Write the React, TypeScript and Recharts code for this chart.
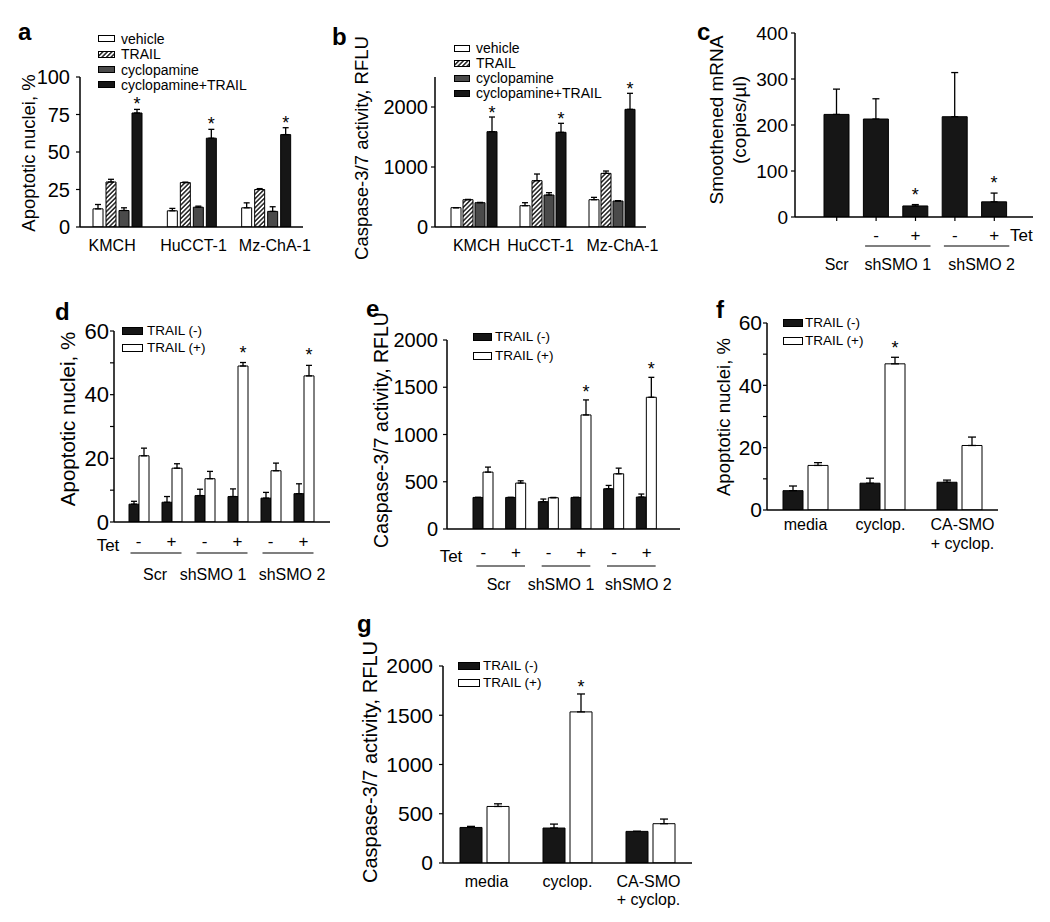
import React from "react";
import { BarChart, Bar, XAxis, YAxis, ErrorBar, LabelList, Legend } from "recharts";

const FONT = '"Liberation Sans", Arial, Helvetica, sans-serif';
const BLACK = "#161616";
const GREY = "#4a4a4a";
const WHITE = "#ffffff";
const HATCH = "url(#hatch)";

// a: apoptotic nuclei (%) per cell line
const cellLines = ["KMCH", "HuCCT-1", "Mz-ChA-1"];
const aVehicle = [12.1, 10.8, 12.8];
const aVehicleErr = [2.9, 1.6, 3.3];
const aTrail = [30, 29.6, 25];
const aTrailErr = [1.8, 0.3, 0.6];
const aCyclo = [11, 13.2, 10.4];
const aCycloErr = [1.8, 0.7, 3.1];
const aCycloTrail = [76, 59.2, 61.6];
const aCycloTrailErr = [2.4, 5.9, 4.6];
const aTicks = [0, 25, 50, 75, 100];

// b: caspase-3/7 activity per cell line
const bVehicle = [322, 355, 455];
const bVehicleErr = [0, 50, 39];
const bTrail = [455, 772, 894];
const bTrailErr = [5, 111, 39];
const bCyclo = [405, 533, 433];
const bCycloErr = [5, 39, 6];
const bCycloTrail = [1589, 1578, 1961];
const bCycloTrailErr = [244, 150, 267];
const bTicks = [0, 1000, 2000];
const cellStars = [true, true, true];

// c: smoothened mRNA
const cCategories = ["Scr", "shSMO 1 -", "shSMO 1 +", "shSMO 2 -", "shSMO 2 +"];
const cTet = ["", "-", "+", "-", "+"];
const cGroups = [
  { name: "Scr", start: 0, size: 1 },
  { name: "shSMO 1", start: 1, size: 2 },
  { name: "shSMO 2", start: 3, size: 2 },
];
const cMrna = [223, 213, 24, 218, 33];
const cMrnaErr = [55, 44, 3, 96, 19];
const cStars = [false, false, true, false, true];
const cTicks = [0, 100, 200, 300, 400];

// d, e: shRNA lines -/+ Tet
const shCategories = ["Scr -", "Scr +", "shSMO 1 -", "shSMO 1 +", "shSMO 2 -", "shSMO 2 +"];
const shTet = ["-", "+", "-", "+", "-", "+"];
const shGroups = [
  { name: "Scr", start: 0, size: 2 },
  { name: "shSMO 1", start: 2, size: 2 },
  { name: "shSMO 2", start: 4, size: 2 },
];
const shStars = [false, false, false, true, false, true];
const dNeg = [5.6, 6.2, 8.3, 8.0, 7.5, 8.9];
const dNegErr = [0.9, 1.8, 2.0, 2.4, 1.8, 3.1];
const dPos = [20.8, 16.9, 13.6, 49.0, 16.1, 45.9];
const dPosErr = [2.4, 1.4, 2.3, 1.1, 2.4, 3.3];
const eNeg = [334, 334, 289, 334, 426, 338];
const eNegErr = [0, 0, 28, 0, 35, 32];
const ePos = [602, 486, 331, 1207, 584, 1394];
const ePosErr = [53, 24, 3, 159, 60, 211];

// f, g: media / cyclopamine / CA-SMO
const treatments = ["media", "cyclop.", "CA-SMO\n+ cyclop."];
const treatStars = [false, true, false];
const fNeg = [6.2, 8.6, 8.9];
const fNegErr = [1.5, 1.6, 0.7];
const fPos = [14.3, 46.9, 20.7];
const fPosErr = [0.9, 2.1, 2.7];
const gNeg = [361, 355, 321];
const gNegErr = [11, 40, 0];
const gPos = [574, 1534, 399];
const gPosErr = [27, 182, 47];

const pctTicks = [0, 10, 20, 30, 40, 50, 60];
const caspTicks = [0, 500, 1000, 1500, 2000];

type Series = { key: string; name: string; fill: string; values: number[]; errs: number[]; stars?: boolean[] };
type Group = { name: string; start: number; size: number };
type TickFn = (p: any) => React.ReactElement;

type Cfg = {
  id: string;
  box: [number, number, number, number];
  plot: [number, number, number, number];
  categories: string[];
  series: Series[];
  domain: [number, number];
  yTicks: number[];
  yEvery?: number;
  yFont: number;
  yGap: number;
  yLabel: { lines: string[]; x: number; y: number; size: number; spacing?: number };
  pad: [number, number];
  barSize: number;
  barGap: number;
  cap: number;
  starLift: number;
  legend?: { x: number; y: number; rowH: number; sw: number; sh: number; gap: number; fs: number };
  xTick: (axisY: number, band: number, bx: number) => TickFn;
  xTickLine?: boolean;
};

// category names under the axis (nudged like the original figure)
const nameTick = (cats: string[], rows: number[], fs: number, dx: number[] = []) => (axisY: number): TickFn => (p) => {
  const i = cats.indexOf(String(p.payload.value));
  const lines = String(p.payload.value).split("\n");
  return (
    <g>
      {lines.map((l, k) => (
        <text key={k} x={p.x + (dx[i] || 0)} y={axisY + rows[k]} textAnchor="middle" fontSize={fs} fontFamily={FONT} fill="#000">
          {l}
        </text>
      ))}
    </g>
  );
};

type TetOpts = {
  cats: string[];
  tet: string[];
  groups: Group[];
  pmY: number;
  lineY: number;
  nameY: number;
  nameDx: number[];
  ext: [number, number];
  tetX: number;
  tetY: number;
  tetAnchor: "start" | "middle" | "end";
  fs: number;
  nameFs: number;
};

const tetTick = (o: TetOpts) => (axisY: number, band: number, bx: number): TickFn => (p) => {
  const i = o.cats.indexOf(String(p.payload.value));
  const x = p.x;
  const gi = o.groups.findIndex((gr) => gr.start === i);
  const g = gi >= 0 ? o.groups[gi] : undefined;
  const lineEnd = x + band * ((g ? g.size : 1) - 1) + o.ext[1];
  return (
    <g>
      {o.tet[i] ? (
        <text x={x} y={axisY + o.pmY} textAnchor="middle" fontSize={o.fs} fontFamily={FONT} fill="#000">
          {o.tet[i]}
        </text>
      ) : null}
      {i === 0 ? (
        <text x={o.tetX - bx} y={axisY + o.tetY} textAnchor={o.tetAnchor} fontSize={o.fs} fontFamily={FONT} fill="#000">
          Tet
        </text>
      ) : null}
      {g && g.size > 1 ? (
        <line x1={x + o.ext[0]} x2={lineEnd} y1={axisY + o.lineY} y2={axisY + o.lineY} stroke="#000" strokeWidth={1.2} />
      ) : null}
      {g ? (
        <text
          x={(g.size > 1 ? (x + o.ext[0] + lineEnd) / 2 : x) + (o.nameDx[gi] || 0)}
          y={axisY + o.nameY}
          textAnchor="middle"
          fontSize={o.nameFs}
          fontFamily={FONT}
          fill="#000"
        >
          {g.name}
        </text>
      ) : null}
    </g>
  );
};

const starContent = (s: Series, lift: number) => (p: any) => {
  const i = typeof p.index === "number" ? p.index : s.values.indexOf(Number(p.value));
  if (i < 0 || !s.stars || !s.stars[i]) return null;
  const x = Number(p.x);
  const y = Number(p.y);
  const w = Number(p.width);
  const h = Number(p.height);
  const errPx = s.values[i] ? (h * s.errs[i]) / s.values[i] : 0;
  return (
    <text x={x + w / 2} y={y - errPx - lift + 2} textAnchor="middle" fontSize={18} fontFamily={FONT} fill="#000">
      *
    </text>
  );
};

function Panel({ cfg }: { cfg: Cfg }) {
  const [bx, by, bw, bh] = cfg.box;
  const [L, T, R, B] = cfg.plot;
  const YW = 60;
  const XH = 30;
  const data = cfg.categories.map((c, i) => {
    const row: Record<string, any> = { cat: c };
    cfg.series.forEach((s) => {
      row[s.key] = s.values[i];
      row[s.key + "Err"] = [0, s.errs[i]];
    });
    return row;
  });
  const axisY = B - by;
  const band = (R - L - cfg.pad[0] - cfg.pad[1]) / cfg.categories.length;
  const lab = cfg.yLabel;
  const sp = lab.spacing ?? 0;
  const lg = cfg.legend;
  return (
    <div style={{ position: "absolute", left: bx, top: by }}>
      <BarChart
        width={bw}
        height={bh}
        data={data}
        margin={{ left: L - bx - YW, top: T - by, right: bx + bw - R, bottom: by + bh - B - XH }}
        barSize={cfg.barSize}
        barGap={cfg.barGap}
      >
        <XAxis
          dataKey="cat"
          height={XH}
          interval={0}
          padding={{ left: cfg.pad[0], right: cfg.pad[1] }}
          axisLine={{ stroke: "#000", strokeWidth: 1.5 }}
          tickLine={cfg.xTickLine ? { stroke: "#000", strokeWidth: 1.2 } : false}
          tickSize={4}
          tick={cfg.xTick(axisY, band, bx)}
        />
        <YAxis
          width={YW}
          domain={cfg.domain}
          allowDataOverflow
          ticks={cfg.yTicks}
          interval={0}
          axisLine={{ stroke: "#000", strokeWidth: 1.5 }}
          tickLine={{ stroke: "#000", strokeWidth: 1.2 }}
          tickSize={4}
          tickMargin={cfg.yGap - 4}
          tick={{ fill: "#000", fontSize: cfg.yFont, fontFamily: FONT }}
          tickFormatter={(v: number) => (cfg.yEvery && v % cfg.yEvery !== 0 ? "" : String(v))}
          label={{
            content: () => (
              <text
                transform={`translate(${lab.x - bx},${lab.y - by}) rotate(-90)`}
                textAnchor="middle"
                fontSize={lab.size}
                fontFamily={FONT}
                fill="#000"
              >
                {lab.lines.map((s, k) => (
                  <tspan key={k} x={0} y={(k - (lab.lines.length - 1) / 2) * sp + lab.size * 0.35}>
                    {s}
                  </tspan>
                ))}
              </text>
            ),
          }}
        />
        {lg ? (
          <Legend
            layout="vertical"
            align="center"
            verticalAlign="middle"
            wrapperStyle={{ left: lg.x - bx, top: lg.y - lg.rowH / 2 - by, width: "auto" }}
            content={() => (
              <div style={{ fontFamily: FONT, fontSize: lg.fs, color: "#000", lineHeight: 1 }}>
                {cfg.series.map((s) => (
                  <div key={s.key} style={{ display: "flex", alignItems: "center", height: lg.rowH, whiteSpace: "nowrap" }}>
                    <svg width={lg.sw} height={lg.sh + 1} style={{ marginRight: lg.gap, display: "block" }}>
                      <rect x={0.5} y={0.5} width={lg.sw - 1} height={lg.sh} fill={s.fill} stroke="#000" strokeWidth={1} />
                    </svg>
                    <span>{s.name}</span>
                  </div>
                ))}
              </div>
            )}
          />
        ) : null}
        {cfg.series.map((s) => (
          <Bar key={s.key} dataKey={s.key} name={s.name} fill={s.fill} stroke="#000" strokeWidth={1} isAnimationActive={false}>
            <ErrorBar dataKey={s.key + "Err"} width={cfg.cap} stroke="#000" strokeWidth={1.3} direction="y" isAnimationActive={false} />
            {s.stars ? <LabelList dataKey={s.key} content={starContent(s, cfg.starLift)} /> : null}
          </Bar>
        ))}
      </BarChart>
    </div>
  );
}

const cellSeries = (v: number[][], e: number[][]): Series[] => [
  { key: "vehicle", name: "vehicle", fill: WHITE, values: v[0], errs: e[0] },
  { key: "trail", name: "TRAIL", fill: HATCH, values: v[1], errs: e[1] },
  { key: "cyclo", name: "cyclopamine", fill: GREY, values: v[2], errs: e[2] },
  { key: "cycloTrail", name: "cyclopamine+TRAIL", fill: BLACK, values: v[3], errs: e[3], stars: cellStars },
];

const trailSeries = (neg: number[], negErr: number[], pos: number[], posErr: number[], stars: boolean[]): Series[] => [
  { key: "neg", name: "TRAIL (-)", fill: BLACK, values: neg, errs: negErr },
  { key: "pos", name: "TRAIL (+)", fill: WHITE, values: pos, errs: posErr, stars },
];

const panels: Cfg[] = [
  {
    id: "a",
    box: [0, 0, 335, 285],
    plot: [80, 77, 303, 227],
    categories: cellLines,
    series: cellSeries([aVehicle, aTrail, aCyclo, aCycloTrail], [aVehicleErr, aTrailErr, aCycloErr, aCycloTrailErr]),
    domain: [0, 100],
    yTicks: aTicks,
    yFont: 20,
    yGap: 10,
    yLabel: { lines: ["Apoptotic nuclei, %"], x: 29, y: 153, size: 18.5 },
    pad: [0, 0],
    barSize: 10,
    barGap: 3,
    cap: 3,
    starLift: 1,
    legend: { x: 98, y: 39, rowH: 15.3, sw: 17, sh: 6, gap: 6, fs: 14 },
    xTick: nameTick(cellLines, [24], 16, [-5, 2, 9]),
  },
  {
    id: "b",
    box: [330, 0, 340, 285],
    plot: [435, 77, 646, 227],
    categories: cellLines,
    series: cellSeries([bVehicle, bTrail, bCyclo, bCycloTrail], [bVehicleErr, bTrailErr, bCycloErr, bCycloTrailErr]),
    domain: [0, 2500],
    yTicks: bTicks,
    yFont: 20,
    yGap: 7,
    yLabel: { lines: ["Caspase-3/7 activity, RFLU"], x: 362, y: 148, size: 18.5 },
    pad: [4, 0],
    barSize: 10,
    barGap: 2,
    cap: 3,
    starLift: 0,
    legend: { x: 454, y: 48, rowH: 15, sw: 16, sh: 6, gap: 6, fs: 14 },
    xTick: nameTick(cellLines, [24], 16, [3, -2, 11]),
  },
  {
    id: "c",
    box: [680, 0, 370, 290],
    plot: [795, 33, 1033, 217],
    categories: cCategories,
    series: [{ key: "mrna", name: "Smoothened mRNA", fill: BLACK, values: cMrna, errs: cMrnaErr, stars: cStars }],
    domain: [0, 400],
    yTicks: cTicks,
    yFont: 19,
    yGap: 7,
    yLabel: { lines: ["Smoothened mRNA", "(copies/µl)"], x: 728, y: 120, size: 19, spacing: 23 },
    pad: [22, 19],
    barSize: 25,
    barGap: 0,
    cap: 3.5,
    starLift: 6,
    xTick: tetTick({
      cats: cCategories,
      tet: cTet,
      groups: cGroups,
      pmY: 24,
      lineY: 29,
      nameY: 53,
      nameDx: [0, 0, 5],
      ext: [-11, 15],
      tetX: 1010,
      tetY: 24,
      tetAnchor: "start",
      fs: 17,
      nameFs: 16,
    }),
    xTickLine: true,
  },
  {
    id: "d",
    box: [0, 295, 340, 295],
    plot: [114, 331, 330, 522],
    categories: shCategories,
    series: trailSeries(dNeg, dNegErr, dPos, dPosErr, shStars),
    domain: [0, 60],
    yTicks: pctTicks,
    yEvery: 20,
    yFont: 22,
    yGap: 5,
    yLabel: { lines: ["Apoptotic nuclei, %"], x: 68, y: 419, size: 20.5 },
    pad: [8, 10],
    barSize: 10,
    barGap: 0,
    cap: 3,
    starLift: 6,
    legend: { x: 122, y: 331, rowH: 17, sw: 21, sh: 7, gap: 4, fs: 13.5 },
    xTick: tetTick({
      cats: shCategories,
      tet: shTet,
      groups: shGroups,
      pmY: 25,
      lineY: 31,
      nameY: 58,
      nameDx: [-1, -9, 4],
      ext: [-8, 10],
      tetX: 108,
      tetY: 29,
      tetAnchor: "middle",
      fs: 17,
      nameFs: 16,
    }),
  },
  {
    id: "e",
    box: [340, 295, 350, 300],
    plot: [447, 340, 680, 529],
    categories: shCategories,
    series: trailSeries(eNeg, eNegErr, ePos, ePosErr, shStars),
    domain: [0, 2000],
    yTicks: caspTicks,
    yFont: 20,
    yGap: 9,
    yLabel: { lines: ["Caspase-3/7 activity, RFLU"], x: 381, y: 430, size: 19.5 },
    pad: [20, 17],
    barSize: 10,
    barGap: 0,
    cap: 3,
    starLift: 4,
    legend: { x: 473, y: 337, rowH: 19, sw: 19, sh: 7, gap: 3, fs: 13.5 },
    xTick: tetTick({
      cats: shCategories,
      tet: shTet,
      groups: shGroups,
      pmY: 29,
      lineY: 37,
      nameY: 61,
      nameDx: [-2, -5, 7],
      ext: [-7, 9],
      tetX: 451,
      tetY: 33,
      tetAnchor: "middle",
      fs: 17,
      nameFs: 16,
    }),
  },
  {
    id: "f",
    box: [690, 295, 360, 270],
    plot: [767, 323, 998, 510],
    categories: treatments,
    series: trailSeries(fNeg, fNegErr, fPos, fPosErr, treatStars),
    domain: [0, 60],
    yTicks: pctTicks,
    yEvery: 20,
    yFont: 21,
    yGap: 5,
    yLabel: { lines: ["Apoptotic nuclei, %"], x: 723, y: 417, size: 18.6 },
    pad: [0, 0],
    barSize: 20,
    barGap: 5,
    cap: 4,
    starLift: 5,
    legend: { x: 783, y: 323, rowH: 18, sw: 20, sh: 7, gap: 2, fs: 13.5 },
    xTick: nameTick(treatments, [20, 39], 16, [0, -2, 3]),
  },
  {
    id: "g",
    box: [340, 600, 360, 322],
    plot: [443, 666, 692, 863],
    categories: treatments,
    series: trailSeries(gNeg, gNegErr, gPos, gPosErr, treatStars),
    domain: [0, 2000],
    yTicks: caspTicks,
    yFont: 21,
    yGap: 10,
    yLabel: { lines: ["Caspase-3/7 activity, RFLU"], x: 370, y: 762, size: 20 },
    pad: [0, 0],
    barSize: 22,
    barGap: 5,
    cap: 4,
    starLift: 3,
    legend: { x: 458, y: 666, rowH: 17, sw: 22, sh: 7, gap: 3, fs: 13.5 },
    xTick: nameTick(treatments, [24, 42], 16, [2, 0, -2]),
  },
];

const letters: [string, number, number][] = [
  ["a", 18, 40],
  ["b", 332, 45],
  ["c", 697, 40],
  ["d", 55, 320],
  ["e", 366, 317],
  ["f", 716, 318],
  ["g", 357, 632],
];

export default function App() {
  return (
    <div style={{ position: "absolute", left: 0, top: 0, width: 1050, height: 922, background: "#fff", fontFamily: FONT }}>
      <svg width={0} height={0} style={{ position: "absolute" }}>
        <defs>
          <pattern id="hatch" width={3.2} height={3.2} patternUnits="userSpaceOnUse" patternTransform="rotate(45)">
            <rect width={3.2} height={3.2} fill="#fff" />
            <line x1={0.8} y1={0} x2={0.8} y2={3.2} stroke="#000" strokeWidth={1.3} />
          </pattern>
        </defs>
      </svg>
      {panels.map((p) => (
        <Panel key={p.id} cfg={p} />
      ))}
      <svg width={1050} height={922} style={{ position: "absolute", left: 0, top: 0, pointerEvents: "none" }}>
        {letters.map(([t, x, y]) => (
          <text key={t} x={x} y={y} fontSize={24} fontWeight="bold" fontFamily={FONT} fill="#000">
            {t}
          </text>
        ))}
      </svg>
    </div>
  );
}
